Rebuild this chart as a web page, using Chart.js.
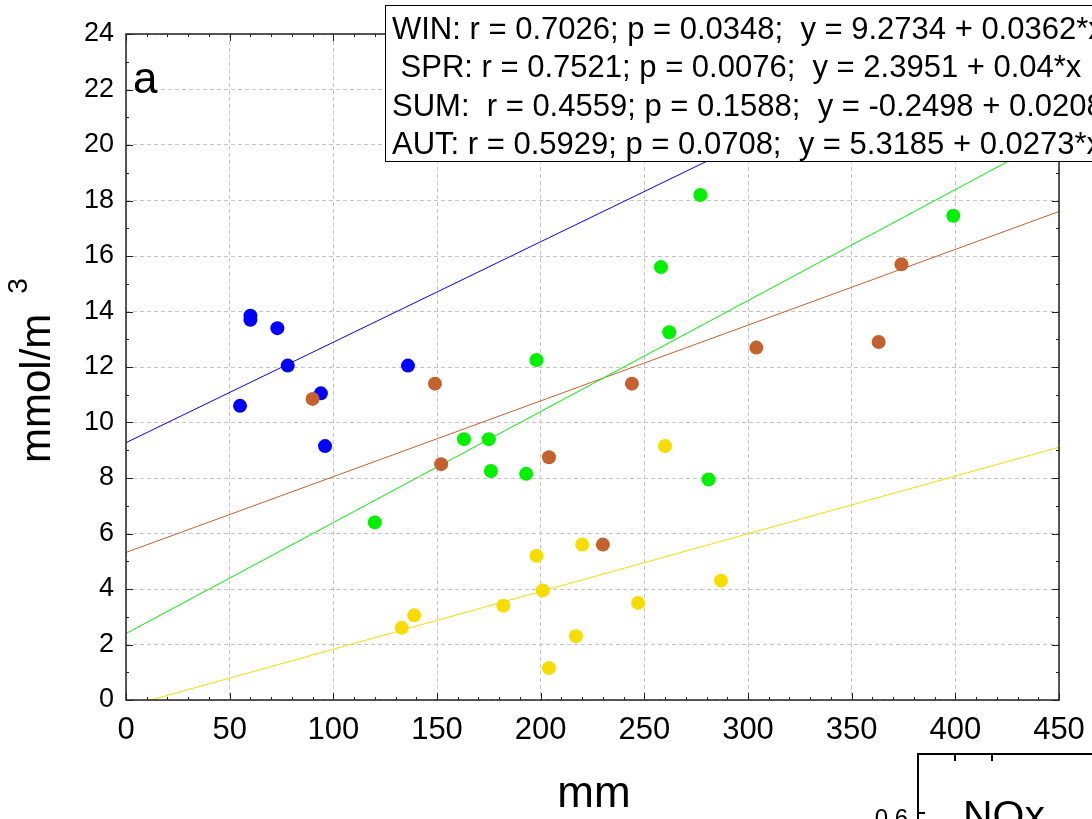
<!DOCTYPE html>
<html lang="en">
<head>
  <meta charset="UTF-8">
  <title>mmol/m3 vs mm</title>
  <script src="https://cdn.jsdelivr.net/npm/chart.js"></script>
  <style>
    html, body { margin: 0; padding: 0; background: #fff; overflow: hidden; }
    body { width: 1092px; height: 819px; position: relative; font-family: "Liberation Sans", Arial, sans-serif; color: #000; }
    #chart { position: absolute; left: 0; top: 0; }
    .txt { position: absolute; white-space: pre; line-height: normal; }
    #stats { position: absolute; left: 385px; top: 5px; width: 760px; height: 155px; border: 1.5px solid #000; background: #fff; }
    #statsText { position: absolute; left: 392px; top: 10px; font-size: 31px; line-height: 38.3px; white-space: pre; }
    #ytitle { left: -64px; top: 339px; width: 200px; height: 48px; font-size: 42px; transform: rotate(-90deg); }
    #ytitle span { font-size: 28px; position: relative; top: -23px; margin-left: 20px; }
    #inset { position: absolute; left: 917px; top: 753px; width: 200px; height: 100px; border-left: 2px solid #000; border-top: 2px solid #000; }
    .tk { position: absolute; background: #000; }
  </style>
</head>
<body>
  <canvas id="chart" width="1092" height="819"></canvas>

  <div id="stats"></div>
  <div id="statsText">WIN: r = 0.7026; p = 0.0348;  y = 9.2734 + 0.0362*x
 SPR: r = 0.7521; p = 0.0076;  y = 2.3951 + 0.04*x
SUM:  r = 0.4559; p = 0.1588;  y = -0.2498 + 0.0208*x
AUT: r = 0.5929; p = 0.0708;  y = 5.3185 + 0.0273*x</div>

  <div class="txt" style="left:133px; top:53px; font-size:44px;">a</div>
  <div class="txt" id="ytitle">mmol/m<span>3</span></div>
  <div class="txt" style="left:494px; top:767px; width:200px; text-align:center; font-size:44px;">mm</div>

  <div id="inset">
    <div class="tk" style="left:35px; top:0; width:1.5px; height:6px;"></div>
    <div class="tk" style="left:72px; top:0; width:1.5px; height:6px;"></div>
    <div class="tk" style="left:0; top:57px; width:6px; height:1.5px;"></div>
  </div>
  <div class="txt" style="left:862px; top:804px; width:46px; text-align:right; font-size:24px;">0.6</div>
  <div class="txt" style="left:963px; top:792px; font-size:41px;">NOx</div>

  <script>
    // precipitation (mm) vs concentration (mmol/m3), by season
    const winX = [55, 60, 60, 73, 78, 94, 96, 136];
    const winY = [10.6, 13.85, 13.7, 13.4, 12.05, 11.05, 9.15, 12.05];
    const sprX = [120, 163, 175, 176, 193, 198, 258, 262, 277, 281, 399];
    const sprY = [6.4, 9.4, 9.4, 8.25, 8.15, 12.25, 15.6, 13.25, 18.2, 7.95, 17.45];
    const sumX = [133, 139, 182, 198, 201, 204, 217, 220, 247, 260, 287];
    const sumY = [2.6, 3.05, 3.4, 5.2, 3.95, 1.15, 2.3, 5.6, 3.5, 9.15, 4.3];
    const autX = [90, 149, 152, 204, 230, 244, 304, 363, 374];
    const autY = [10.85, 11.4, 8.5, 8.75, 5.6, 11.4, 12.7, 12.9, 15.7];

    const seasons = ["WIN", "SPR", "SUM", "AUT"];
    const intercepts = [9.2734, 2.3951, -0.2498, 5.3185];
    const slopes = [0.0362, 0.04, 0.0208, 0.0273];
    const colors = ["#0000ff", "#00f000", "#f7dc00", "#c4612f"];

    const xMin = 0, xMax = 450, yMin = 0, yMax = 24;
    const xStep = 50, yStep = 2;

    const toPts = (xs, ys) => xs.map((x, i) => ({ x, y: ys[i] }));
    const pts = [toPts(winX, winY), toPts(sprX, sprY), toPts(sumX, sumY), toPts(autX, autY)];

    const font = '"Liberation Sans", Arial, sans-serif';
    const datasets = [];

    // fitted lines (drawn under the points)
    seasons.forEach((s, i) => {
      datasets.push({
        type: "line",
        label: s + " fit",
        data: [xMin, xMax].map(x => ({ x, y: intercepts[i] + slopes[i] * x })),
        borderColor: colors[i],
        borderWidth: 1,
        pointRadius: 0,
        fill: false,
        order: 2
      });
    });

    // points; autumn sits on top
    const pointOrder = [1.4, 1.2, 1.3, 1.0];
    seasons.forEach((s, i) => {
      datasets.push({
        type: "scatter",
        label: s,
        data: pts[i],
        backgroundColor: colors[i],
        borderWidth: 0,
        pointRadius: 7,
        pointHoverRadius: 7,
        order: pointOrder[i]
      });
    });

    // frame with small inward ticks on all four sides
    const framePlugin = {
      id: "frame",
      afterDraw(chart) {
        const { ctx, chartArea: a, scales } = chart;
        ctx.save();
        ctx.strokeStyle = "#222";
        ctx.lineWidth = 1.5;
        ctx.strokeRect(a.left, a.top, a.right - a.left, a.bottom - a.top);
        ctx.lineWidth = 1;
        ctx.beginPath();
        for (let v = xMin; v <= xMax; v += 10) {
          const px = Math.round(scales.x.getPixelForValue(v)) + 0.5;
          const len = v % xStep === 0 ? 7 : 3;
          ctx.moveTo(px, a.bottom); ctx.lineTo(px, a.bottom - len);
          ctx.moveTo(px, a.top); ctx.lineTo(px, a.top + len);
        }
        for (let v = yMin; v <= yMax; v += 1) {
          const py = Math.round(scales.y.getPixelForValue(v)) + 0.5;
          const len = v % yStep === 0 ? 7 : 3;
          ctx.moveTo(a.left, py); ctx.lineTo(a.left + len, py);
          ctx.moveTo(a.right, py); ctx.lineTo(a.right - len, py);
        }
        ctx.stroke();
        ctx.restore();
      }
    };

    new Chart(document.getElementById("chart").getContext("2d"), {
      data: { datasets },
      options: {
        responsive: false,
        animation: false,
        layout: { padding: { top: 34, right: 33, left: 0, bottom: 0 } },
        plugins: { legend: { display: false }, tooltip: { enabled: false } },
        scales: {
          x: {
            type: "linear",
            min: xMin, max: xMax,
            ticks: { stepSize: xStep, color: "#000", font: { family: font, size: 31 }, padding: 12, maxRotation: 0 },
            grid: { color: "#c4c4c4", lineWidth: 1, drawTicks: false },
            border: { display: false, dash: [4, 3] },
            afterFit(s) { s.height = 119; s.paddingLeft = 0; s.paddingRight = 0; }
          },
          y: {
            type: "linear",
            min: yMin, max: yMax,
            ticks: { stepSize: yStep, color: "#000", font: { family: font, size: 27 }, padding: 12 },
            grid: { color: "#c4c4c4", lineWidth: 1, drawTicks: false },
            border: { display: false, dash: [4, 3] },
            afterFit(s) { s.width = 126; s.paddingTop = 0; s.paddingBottom = 0; }
          }
        }
      },
      plugins: [framePlugin]
    });
  </script>
</body>
</html>
